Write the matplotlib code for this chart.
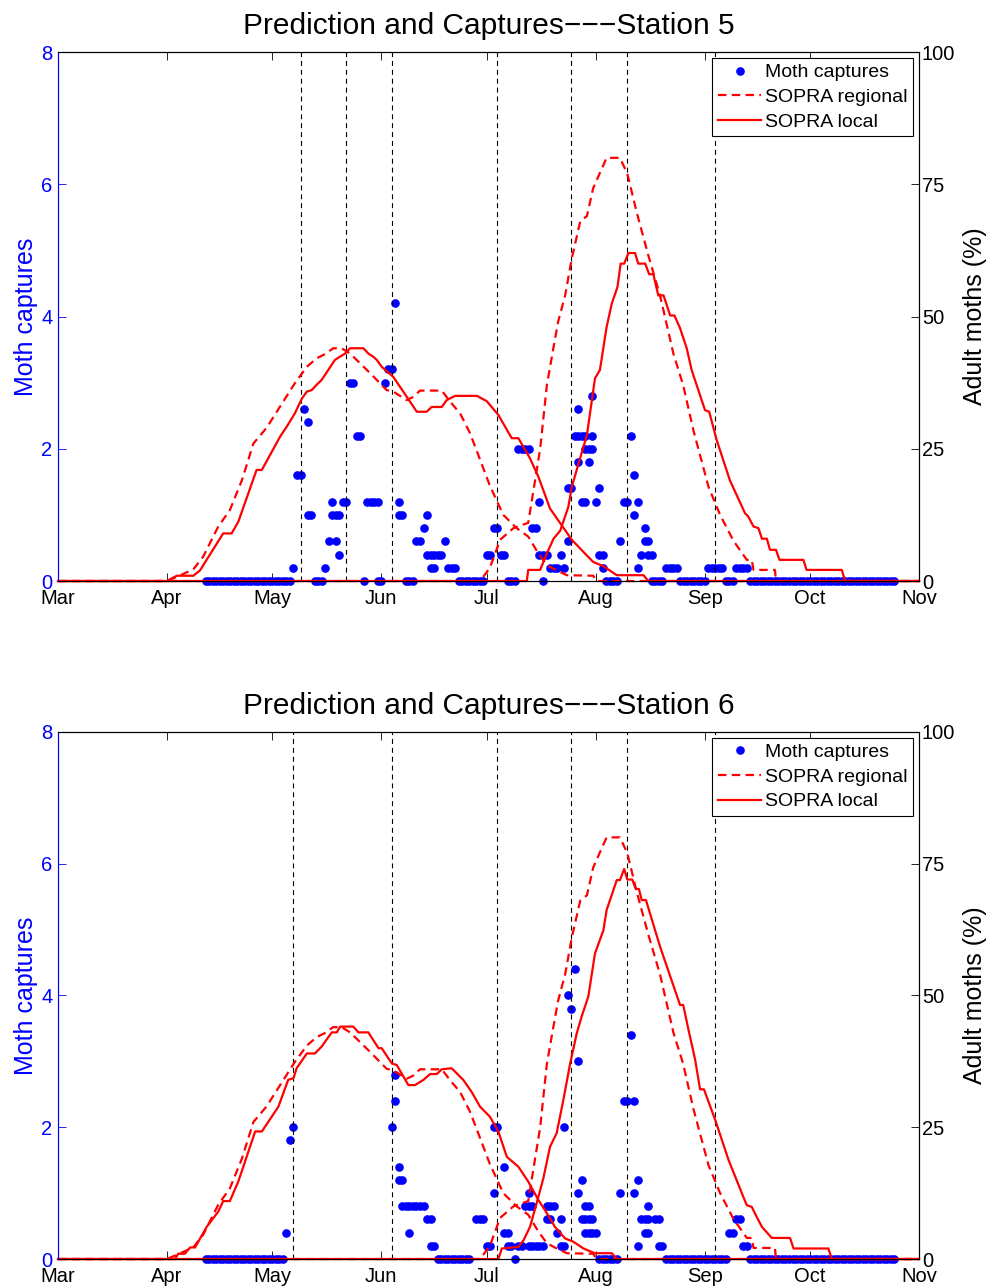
import numpy as np
import matplotlib.pyplot as plt

plt.rcParams['font.family'] = ['Liberation Sans', 'DejaVu Sans']

# x axis: days counted from 1 March
month_days = [0, 31, 61, 92, 122, 153, 184, 214, 245]
month_names = ['Mar', 'Apr', 'May', 'Jun', 'Jul', 'Aug', 'Sep', 'Oct', 'Nov']

# SOPRA regional prediction (same for both stations), % adult moths
reg1_days = [0, 31, 33.8, 38.5, 41.3, 45.6, 48.9, 52.3, 55.6, 59.4, 63.2, 67.4, 70.8,
             73.6, 76.0, 78.3, 80.7, 83.1, 85.9, 88.8, 91.6, 93.5, 95.4, 99.2, 101.1,
             103.0, 109.2, 111.6, 114.4, 117.2, 119.5, 122.9, 126.7, 130.5, 133.8,
             136.7, 139.1, 141.9, 144.8, 152.3, 153.3, 245]
reg1_pct = [0, 0, 0.8, 2.2, 4.6, 10.3, 13.4, 19, 26, 29, 33, 37.4, 40.5,
            42.1, 42.9, 44, 44, 43, 41.2, 39.3, 37.4, 36.1, 35.8, 34.2, 34.8,
            36, 36, 33.9, 31.7, 28, 24, 18, 12.5, 10, 8.4,
            5.2, 3, 2, 1.1, 1, 0, 0]
reg2_days = [0, 120.1, 122.9, 125.8, 129.6, 133.8, 137.2, 139.1, 141.0, 142.3, 144.3,
             146.2, 148.6, 150.5, 152.3, 156.1, 159.9, 162.0, 164.7, 168.0, 171.3,
             175.1, 177.9, 180.8, 185.1, 188.4, 192.2, 196.0, 197.4, 197.9, 204.0,
             204.3, 245]
reg2_pct = [0, 0, 2.5, 7.8, 10, 11, 25, 37, 44.2, 49, 54,
            61, 68, 69, 74.3, 80, 80, 77, 69.6, 61.5, 54,
            43, 37, 28.5, 17.8, 12.5, 7.6, 4, 4, 2.1, 2.1,
            0, 0]

# SOPRA local, station 5
loc5_g1_days = [0, 31.0, 33.8, 38.5, 40.4, 47.0, 49.4, 51.3, 56.5, 58.0, 63.2, 65.1,
                67.4, 69.4, 70.8, 72.2, 73.6, 75.0, 78.8, 80.2, 81.7, 83.1, 86.9,
                88.3, 89.7, 90.7, 92.1, 95.4, 102.1, 104.9, 106.3, 109.2, 110.6,
                113.0, 119.2, 122.0, 125.3, 129.1, 131.0, 134.3, 136.7, 140.0, 146.2,
                149.5, 152.3, 155.2, 159.0, 166.6, 168.0, 245]
loc5_g1_pct = [0, 0, 1, 1, 2, 9, 9, 11.2, 21, 21, 27.3, 29.2,
               31.7, 34.5, 35.8, 36.1, 37.1, 38, 41.8, 42.4, 43, 44, 44,
               43, 42.4, 41.8, 40.5, 38.6, 32, 32, 32.9, 32.9, 34.2,
               35, 35, 34, 31.4, 27, 27, 23.2, 19.7, 13.7, 7.8,
               5.5, 3.6, 2.8, 1.1, 1.1, 0, 0]
loc5_g2_days = [0, 133.4, 133.8, 137.2, 139.1, 141.0, 142.9, 145.2, 146.2, 148.6, 150.5,
                152.8, 154.2, 156.1, 157.6, 159.2, 160.1, 161.1, 162.3, 164.2, 165.1,
                167.1, 168.2, 169.4, 170.8, 172.3, 174.2, 175.4, 177.0, 178.9, 180.3,
                184.1, 185.3, 187.4, 191.2, 195.5, 196.4, 197.9, 199.3, 200.3, 201.7,
                202.6, 204.3, 205.3, 212.1, 213.0, 223.0, 224.0, 245]
loc5_g2_pct = [0, 0, 2.1, 2.1, 5.2, 8, 9.5, 14, 17.8, 23.3, 27.6,
               38.3, 39.9, 48, 52.5, 55.6, 60, 60, 62, 62, 60,
               60, 58, 58, 54, 54, 50.2, 50.2, 47.8, 44, 39.9,
               32.3, 32, 26.7, 19, 12.8, 12.2, 10.3, 10, 8, 8,
               5.9, 5.9, 4, 4, 2.1, 2.1, 0, 0]

# SOPRA local, station 6
loc6_g1_days = [0, 30.9, 33.3, 34.2, 36.1, 37.6, 39.0, 42.3, 45.6, 47.0, 48.9, 51.3,
                56.1, 58.0, 62.7, 65.5, 67.0, 67.9, 70.8, 73.1, 75.0, 77.9, 79.3,
                80.3, 84.0, 85.5, 88.3, 91.2, 92.1, 95.0, 96.4, 99.7, 101.6, 104.0,
                105.9, 107.8, 109.2, 112.0, 113.5, 115.3, 117.7, 120.1, 122.9, 125.3,
                127.7, 131.0, 133.8, 136.7, 139.1, 141.4, 144.3, 146.6, 149.5, 152.8,
                157.6, 159.0, 245]
loc6_g1_pct = [0, 0, 0, 1, 1, 2.2, 2.2, 6.1, 9, 11, 11, 14.7,
               24.2, 24.2, 28.9, 34, 34.3, 36.2, 39, 39, 40.3, 43, 43,
               44.1, 44.1, 43, 43, 40, 40, 37.1, 36.8, 33, 33, 34,
               35.1, 35.1, 36, 36.2, 35.2, 34, 31.7, 28.9, 27, 24.2,
               19.4, 17.5, 14.7, 11.2, 8.7, 6.1, 3.9, 3.3, 2, 1.1,
               1.1, 0, 0]
loc6_g2_days = [0, 125.3, 126.3, 131.0, 132.5, 134.3, 136.2, 138.1, 140.0, 141.9, 143.8,
                145.7, 147.6, 149.0, 150.9, 152.8, 155.2, 156.1, 159.0, 159.9, 161.1,
                162.0, 163.4, 164.4, 165.3, 166.1, 167.3, 171.3, 177.0, 177.9, 179.4,
                181.3, 182.7, 183.8, 187.0, 190.8, 195.0, 196.0, 197.4, 198.8, 200.3,
                203.1, 208.3, 209.3, 219.2, 220.2, 245]
loc6_g2_pct = [0, 0, 2, 2.3, 3.6, 6.1, 10.6, 15.3, 21.3, 23.9, 30.2,
               37, 42.8, 46, 49.8, 58, 62.4, 66.2, 71.9, 71.9, 74,
               72, 72, 70.2, 70.2, 68.1, 68.1, 59.3, 48.2, 48.2, 43.5,
               37.8, 32.2, 32.2, 26.4, 18.8, 11.8, 10.2, 9.9, 8, 6.1,
               4, 4, 2, 2, 0, 0]

# Moth captures, station 5 (non-zero days, then runs of zero days)
cap5_days = [67, 68, 69, 70, 71, 71, 72, 76, 77, 79, 78, 79, 80, 78, 80, 81, 82, 83, 84,
             85, 86, 88, 89, 90, 91, 93, 94, 95, 96, 97, 97, 98, 102, 103, 104, 105,
             105, 106, 107, 108, 109, 106, 107, 110, 111, 112, 113, 122, 123, 124, 125,
             126, 127, 131, 132, 133, 134, 135, 136, 137, 137, 138, 139, 140, 141, 142,
             143, 144, 145, 145, 146, 147, 148, 149, 150, 148, 148, 151, 150, 151, 152,
             152, 152, 149, 150, 153, 154, 155, 154, 155, 160, 161, 162, 163, 164, 165,
             164, 165, 166, 167, 167, 168, 168, 169, 173, 174, 175, 176, 185, 186, 187,
             188, 189, 193, 194, 195, 196]
cap5_vals = [0.2, 1.6, 1.6, 2.6, 2.4, 1.0, 1.0, 0.2, 0.6, 0.6, 1.0, 1.0, 1.0, 1.2, 0.4, 1.2, 1.2, 3.0, 3.0,
             2.2, 2.2, 1.2, 1.2, 1.2, 1.2, 3.0, 3.2, 3.2, 4.2, 1.2, 1.0, 1.0, 0.6, 0.6, 0.8, 1.0,
             0.4, 0.4, 0.4, 0.4, 0.4, 0.2, 0.2, 0.6, 0.2, 0.2, 0.2, 0.4, 0.4, 0.8, 0.8,
             0.4, 0.4, 2.0, 2.0, 2.0, 2.0, 0.8, 0.8, 1.2, 0.4, 0.4, 0.4, 0.2, 0.2, 0.2,
             0.4, 0.2, 0.6, 1.4, 1.4, 2.2, 2.2, 2.2, 2.2, 2.6, 1.8, 1.8, 2.0, 2.0, 2.0,
             2.2, 2.8, 1.2, 1.2, 1.2, 1.4, 0.2, 0.4, 0.4, 0.6, 1.2, 1.2, 2.2, 1.6, 1.2,
             1.0, 0.2, 0.4, 0.8, 0.6, 0.6, 0.4, 0.4, 0.2, 0.2, 0.2, 0.2, 0.2, 0.2, 0.2,
             0.2, 0.2, 0.2, 0.2, 0.2, 0.2]
cap5_zero_runs = [(42, 66), (73, 75), (87, 87), (91, 92), (99, 101), (114, 121), (128, 130),
                  (138, 138), (156, 159), (169, 172), (177, 184), (190, 192), (197, 238)]

# Moth captures, station 6
cap6_days = [65, 66, 67, 95, 96, 96, 97, 97, 98, 98, 99, 100, 101, 102, 103, 104, 100, 105,
             106, 106, 107, 119, 120, 121, 122, 123, 124, 124, 125, 127, 127, 128, 128,
             129, 131, 132, 134, 133, 134, 135, 139, 140, 141, 134, 135, 136, 137, 138,
             139, 140, 142, 143, 143, 144, 144, 145, 146, 147, 148, 148, 149, 149, 150,
             151, 152, 150, 151, 150, 151, 152, 153, 160, 161, 162, 164, 163, 164, 165,
             165, 166, 167, 168, 167, 168, 168, 170, 171, 171, 172, 191, 192, 193, 194,
             195, 196]
cap6_vals = [0.4, 1.8, 2.0, 2.0, 2.4, 2.8, 1.4, 1.2, 1.2, 0.8, 0.8, 0.8, 0.8, 0.8, 0.8, 0.8, 0.4, 0.6,
             0.6, 0.2, 0.2, 0.6, 0.6, 0.6, 0.2, 0.2, 1.0, 2.0, 2.0, 1.4, 0.4, 0.4, 0.2,
             0.2, 0.2, 0.2, 1.0, 0.8, 0.8, 0.8, 0.8, 0.8, 0.8, 0.2, 0.2, 0.2, 0.2, 0.2,
             0.6, 0.6, 0.4, 0.6, 0.2, 0.2, 2.0, 4.0, 3.8, 4.4, 3.0, 1.0, 1.2, 0.6, 0.6,
             0.6, 0.6, 0.8, 0.8, 0.4, 0.4, 0.4, 0.4, 1.0, 2.4, 2.4, 2.4, 3.4, 1.0, 1.2,
             0.2, 0.6, 0.6, 0.6, 0.4, 0.4, 0.8, 0.6, 0.6, 0.2, 0.2, 0.4, 0.4, 0.6, 0.6,
             0.2, 0.2]
cap6_zero_runs = [(42, 64), (108, 117), (130, 130), (154, 159), (173, 190), (197, 238)]

# dates of the vertical reference lines
vlines5 = [69, 82, 95, 125, 146, 162, 187]
vlines6 = [67, 95, 125, 146, 162, 187]

RED_DASH = (0, (3.8, 2.4))


def panel(rect, station, cap_days, cap_vals, zero_runs, loc_g1, loc_g2, vlines):
    ax = fig.add_axes(rect)
    ax2 = ax.twinx()

    zero_days = np.concatenate([np.arange(a, b + 1) for a, b in zero_runs])
    days = np.concatenate([np.array(cap_days, float), zero_days])
    vals = np.concatenate([np.array(cap_vals, float), np.zeros(len(zero_days))])
    dots, = ax.plot(days, vals, 'o', color='blue', ms=5.2, mec='blue', clip_on=False,
                    label='Moth captures')

    for d in vlines:
        ax2.axvline(d, color='black', lw=0.8, ls=(0, (4.5, 3.5)), zorder=1)

    reg, = ax2.plot(reg1_days, reg1_pct, color='red', lw=1.6, ls=RED_DASH,
                    clip_on=False, label='SOPRA regional')
    ax2.plot(reg2_days, reg2_pct, color='red', lw=1.6, ls=RED_DASH, clip_on=False)
    loc, = ax2.plot(loc_g1[0], loc_g1[1], color='red', lw=1.6, clip_on=False,
                    label='SOPRA local')
    ax2.plot(loc_g2[0], loc_g2[1], color='red', lw=1.6, clip_on=False)

    ax.set_xlim(0, 245)
    ax.set_ylim(0, 8)
    ax2.set_ylim(0, 100)
    ax.set_xticks(month_days)
    ax.set_xticklabels(month_names)
    ax.set_yticks([0, 2, 4, 6, 8])
    ax2.set_yticks([0, 25, 50, 75, 100])

    ax.tick_params(axis='x', direction='in', top=True, length=6, width=0.6,
                   labelsize=14.5, pad=6)
    ax.tick_params(axis='y', direction='in', length=6, width=0.6, colors='blue',
                   labelsize=14.5, pad=4)
    ax2.tick_params(axis='y', direction='in', length=6, width=0.6, labelsize=14.5, pad=2)

    for a in (ax, ax2):
        for s in a.spines.values():
            s.set_linewidth(0.8)
        a.spines['left'].set_color('blue')

    ax.set_ylabel('Moth captures', color='blue', fontsize=18, labelpad=2.5)
    ax2.set_ylabel('Adult moths (%)', fontsize=18, labelpad=5.5)
    ax.set_title('Prediction and Captures\u2212\u2212\u2212Station %d' % station,
                 fontsize=21.5, pad=13)

    leg = ax2.legend([dots, reg, loc], ['Moth captures', 'SOPRA regional', 'SOPRA local'],
                     loc='upper right', fontsize=14, fancybox=False, framealpha=1,
                     edgecolor='black', borderaxespad=0.3, labelspacing=0.36,
                     handlelength=2.2, handletextpad=0.2, borderpad=0.3, numpoints=1)
    leg.get_frame().set_linewidth(0.8)


fig = plt.figure(figsize=(9.9, 12.88), dpi=100)
panel([0.0586, 0.5489, 0.8697, 0.4107], 5, cap5_days, cap5_vals, cap5_zero_runs,
      (loc5_g1_days, loc5_g1_pct), (loc5_g2_days, loc5_g2_pct), vlines5)
panel([0.0586, 0.0225, 0.8697, 0.4092], 6, cap6_days, cap6_vals, cap6_zero_runs,
      (loc6_g1_days, loc6_g1_pct), (loc6_g2_days, loc6_g2_pct), vlines6)

fig.savefig('out.png', dpi=100)
